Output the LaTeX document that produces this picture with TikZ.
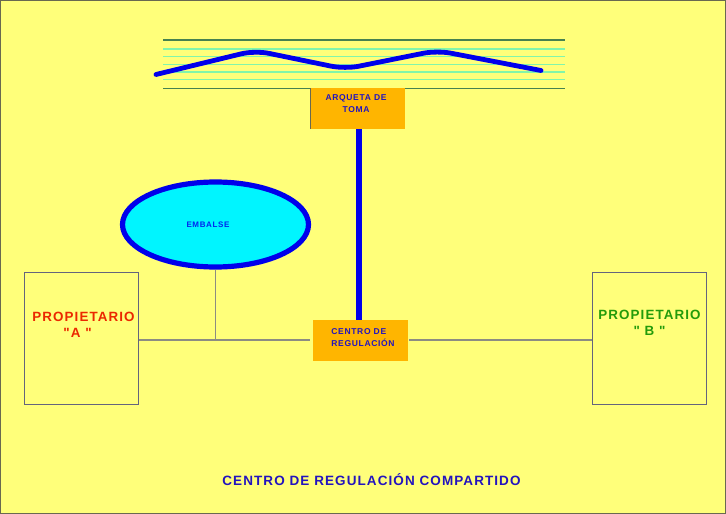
\documentclass[tikz,border=0pt]{standalone}
\usepackage{fontspec}
\setmainfont{Liberation Sans}
\newfontfamily\spacedfont[LetterSpace=8]{Liberation Sans}
\usetikzlibrary{shapes.geometric}
\definecolor{fondo}{RGB}{255,255,122}
\definecolor{naranja}{RGB}{255,181,0}
\definecolor{azul}{RGB}{0,0,235}
\definecolor{agua}{RGB}{0,245,255}
\definecolor{tinta}{RGB}{35,20,190}
\definecolor{marco}{RGB}{100,100,125}
\definecolor{borde}{RGB}{105,105,80}
\definecolor{gris}{RGB}{140,140,130}
\definecolor{rojo}{RGB}{235,40,0}
\definecolor{verde}{RGB}{35,155,10}
\definecolor{claro}{RGB}{130,245,170}
\definecolor{oscuro}{RGB}{70,130,80}

\begin{document}
\begin{tikzpicture}[x=1pt,y=-1pt]
\tikzset{Caja/.style={draw=none,fill=naranja,minimum width=95pt,minimum height=41pt,inner sep=0pt}}
\tikzset{Letrero/.style={font=\spacedfont\bfseries\fontsize{8.5}{12}\selectfont,text=tinta,inner sep=0pt}}
\tikzset{Propietario/.style={draw=marco,fill=none,line width=1pt,minimum width=114pt,minimum height=132pt,inner sep=0pt}}
\tikzset{Rotulo/.style={font=\spacedfont\bfseries\fontsize{13.4}{16.5}\selectfont,align=center,inner sep=0pt}}
\tikzset{Tubo/.style={draw=azul,line width=6pt}}
\tikzset{Linea/.style={draw=gris,line width=1.2pt}}
\useasboundingbox (0,0) rectangle (726,514);
\draw[fill=fondo,draw=borde,line width=1.2pt] (0.6,0.6) rectangle (725.4,513.4);

\foreach \y in {49,56.7,64.3,72,79.7}
  \draw[color=claro,line width=1.1pt] (163,\y) -- (565,\y);
\foreach \y in {40,88.3}
  \draw[color=oscuro,line width=1.2pt] (163,\y) -- (565,\y);
\draw[azul,line width=4.8pt,line cap=round,rounded corners=14pt] (156,74.5) -- (255,50.5) -- (345,69) -- (437,50.5) -- (541,70.5);

\node[Caja,minimum width=94pt,minimum height=40.5pt] (arqueta) at (358,108.6) {};
\draw[borde,line width=1pt] (arqueta.north west) -- (arqueta.south west);
\node[Letrero,align=center] (toma) at (356,104) {ARQUETA DE\\TOMA};
\node[Caja] (centro) at (360,340.3) {};
\node[Letrero,align=left] (regula) at (363,338) {CENTRO DE\\REGULACIÓN};
\draw[Tubo] (arqueta.south -| 359,0) -- (centro.north -| 359,0);

\node[ellipse,draw=azul,fill=agua,line width=5.2pt,minimum width=186pt,minimum height=85pt,inner sep=0pt] (embalse) at (215.5,224.5) {};
\node[font=\spacedfont\bfseries\fontsize{8}{10}\selectfont,text=azul!85!cyan,inner sep=0pt] (nombre) at (208,225) {EMBALSE};

\node[Propietario] (A) at (81,338) {};
\node[Propietario] (B) at (649,338) {};
\node[Rotulo,text=rojo] (txtA) at (83.5,325) {PROPIETARIO\\\hspace*{-12pt}"A "};
\node[Rotulo,text=verde] (txtB) at (649.5,323) {PROPIETARIO\\" B "};

\coordinate (union) at (215.5,340);
\draw[Linea] (A.east |- union) -- (310,340);
\draw[Linea] (409,340) -- (B.west |- union);
\draw[Linea] (embalse.south) -- (union);

\node[font=\spacedfont\bfseries\fontsize{13.5}{16}\selectfont,text=tinta,inner sep=0pt] (titulo) at (371.5,480) {CENTRO DE REGULACIÓN COMPARTIDO};
\end{tikzpicture}
\end{document}
